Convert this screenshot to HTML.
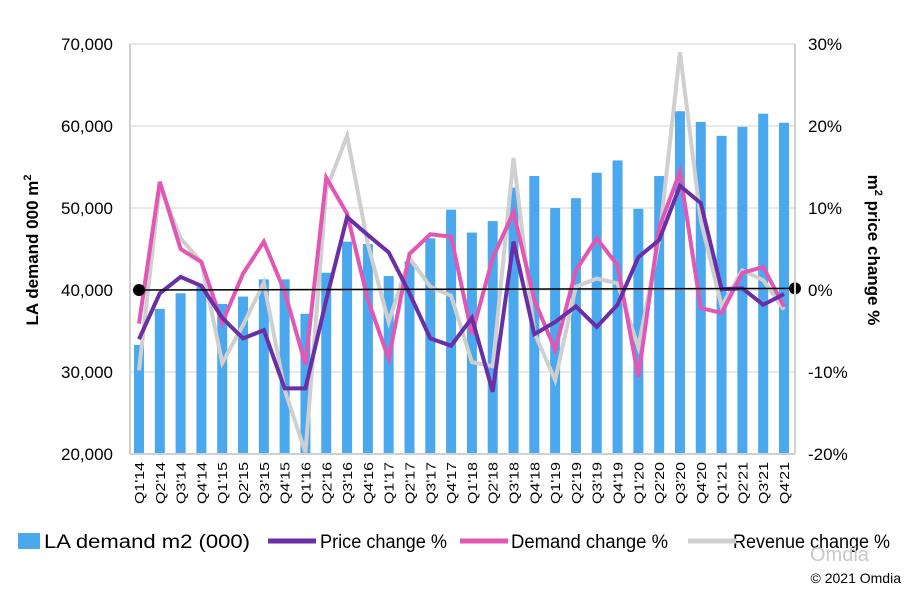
<!DOCTYPE html>
<html><head><meta charset="utf-8"><style>
body{margin:0;background:#fff;font-family:"Liberation Sans",sans-serif}
svg text{font-family:"Liberation Sans",sans-serif}
</style></head><body>
<svg width="906" height="590" viewBox="0 0 906 590">
<g id="grid"></g><g id="bars"></g><g id="lines"></g><g id="axes"></g><g id="legend"></g>
</svg>
<script>
const categories=["Q1'14","Q2'14","Q3'14","Q4'14","Q1'15","Q2'15","Q3'15","Q4'15","Q1'16","Q2'16","Q3'16","Q4'16","Q1'17","Q2'17","Q3'17","Q4'17","Q1'18","Q2'18","Q3'18","Q4'18","Q1'19","Q2'19","Q3'19","Q4'19","Q1'20","Q2'20","Q3'20","Q4'20","Q1'21","Q2'21","Q3'21","Q4'21"];
const demandM2=[33.3,37.7,39.6,40.4,38.3,39.2,41.3,41.3,37.1,42.1,45.9,45.6,41.7,43.5,46.3,49.8,47.0,48.4,52.5,53.9,50.0,51.2,54.3,55.8,49.9,53.9,61.8,60.5,58.8,59.9,61.5,60.4];
const priceChange=[-6,-0.4,1.6,0.5,-3.4,-5.9,-4.9,-12,-12,-1.2,8.9,6.7,4.6,-0.4,-5.9,-6.8,-3.4,-12.4,5.9,-5.4,-3.9,-2,-4.5,-1.8,4,6.1,12.7,10.6,0.1,0.2,-1.8,-0.5];
const demandChange=[-4.1,13.2,5,3.4,-4,2,5.9,-0.2,-9.1,13.7,9.3,-1.2,-8.4,4.4,6.8,6.5,-5.4,3.9,9.5,-1.2,-7.3,2.4,6.3,3,-10.6,7.6,14.4,-2.2,-2.8,2.1,2.8,-2];
const revenueChange=[-9.8,12.7,6.3,3.4,-8.9,-4.3,0.9,-12.2,-19.8,12.2,18.8,5.6,-3.9,3.9,0.4,-0.7,-8.8,-9.3,16.1,-5.2,-11,0.4,1.4,0.8,-7,6.1,29,8.5,-2,2.4,1.2,-2.4];
const leftTicks=[20,30,40,50,60,70];
const rightTicks=[-20,-10,0,10,20,30];

const NS="http://www.w3.org/2000/svg";
const X0=130,X1=795,YT=44,YB=454;
const xs=i=>139+i*(784-139)/(categories.length-1);
const yL=v=>YB-(v-20)/50*(YB-YT);
const yR=v=>YB-(v+20)/50*(YB-YT);
function mk(t,a,p){const e=document.createElementNS(NS,t);for(const k in a)e.setAttribute(k,a[k]);p.appendChild(e);return e;}
const G=id=>document.getElementById(id);
leftTicks.forEach(v=>{
 const l=mk('line',{x1:X0,x2:X1,y1:yL(v),y2:yL(v),stroke:'#e2e2e2','stroke-width':1.5},G('grid'));
 
 
 const t=mk('text',{x:113,y:yL(v)+6,'text-anchor':'end','font-size':17,fill:'#000'},G('axes'));t.textContent=v+",000";
 
 
});
rightTicks.forEach(v=>{
 const t=mk('text',{x:808,y:yR(v)+6,'font-size':17,fill:'#000'},G('axes'));t.textContent=v+"%";
 
 
});
mk('line',{x1:X0,x2:X0,y1:YT,y2:YB,stroke:'#d0d0d0','stroke-width':2},G('axes'));
mk('line',{x1:X1,x2:X1,y1:YT,y2:YB,stroke:'#d0d0d0','stroke-width':2},G('axes'));
mk('line',{x1:X0,x2:X1,y1:YB,y2:YB,stroke:'#d0d0d0','stroke-width':2},G('axes'));
demandM2.forEach((v,i)=>{
 const b=mk('rect',{x:xs(i)-5,y:yL(v),width:10,height:YB-yL(v),fill:'#4aa8ee'},G('bars'));
 
 
 const t=mk('text',{transform:`translate(${xs(i)+5},${462}) rotate(-90)`,'text-anchor':'end','font-size':13,textLength:42,lengthAdjust:'spacingAndGlyphs',fill:'#000'},G('axes'));t.textContent=categories[i];
 
 
});
function line(arr,col,name){
 const p=mk('polyline',{points:arr.map((v,i)=>xs(i)+','+yR(v)).join(' '),fill:'none',stroke:col,'stroke-width':4,'stroke-linejoin':'miter'},G('lines'));
 
 
}
line(revenueChange,'#cfcfcf','revenue-line');
line(demandChange,'#e256b4','demand-line');
line(priceChange,'#6a2fa6','price-line');
mk('line',{x1:139,x2:795,y1:yR(0),y2:yR(0.2),stroke:'#000','stroke-width':1.5},G('lines'));
mk('circle',{cx:139,cy:yR(0),r:6,fill:'#000'},G('lines'));
mk('circle',{cx:795,cy:yR(0.2),r:6,fill:'#000'},G('lines'));
const yt=mk('text',{transform:'translate(38,250) rotate(-90)','text-anchor':'middle','font-size':17,'font-weight':'bold'},G('axes'));
yt.innerHTML='LA demand 000 m<tspan dy="-7" font-size="11">2</tspan>';


const yt2=mk('text',{transform:'translate(868,250) rotate(90)','text-anchor':'middle','font-size':17,'font-weight':'bold'},G('axes'));
yt2.innerHTML='m<tspan dy="-7" font-size="11">2</tspan><tspan dy="7"> price change %</tspan>';


const lg=G('legend');
mk('rect',{x:18,y:533,width:22,height:16,fill:'#4aa8ee'},lg);
[['LA demand m2 (000)',44,206],['Price change %',320,127],['Demand change %',511,157],['Revenue change %',733,157]].forEach(d=>{
 const t=mk('text',{x:d[1],y:548,'font-size':19,textLength:d[2],lengthAdjust:'spacingAndGlyphs'},lg);t.textContent=d[0];
 
 
});
[['#6a2fa6',268],['#e256b4',460],['#cfcfcf',688]].forEach(d=>mk('line',{x1:d[1],x2:d[1]+48,y1:541,y2:541,stroke:d[0],'stroke-width':5},lg));
const om=mk('text',{x:810,y:561,'font-size':20,fill:'#c8c8c8'},lg);om.textContent='Omdia';
const cp=mk('text',{x:901,y:583,'text-anchor':'end','font-size':14},lg);cp.textContent='© 2021 Omdia';


</script>
</body></html>
